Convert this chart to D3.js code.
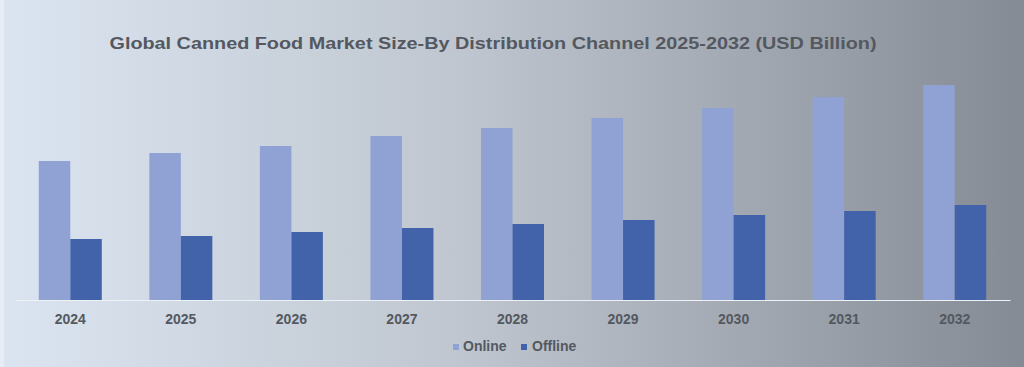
<!DOCTYPE html>
<html>
<head>
<meta charset="utf-8">
<script src="https://cdn.jsdelivr.net/npm/d3@7"></script>
<style>
  body { margin: 0; }
  svg { display: block; font-family: "Liberation Sans", Arial, sans-serif; }
</style>
</head>
<body>
<div id="chart"></div>
<script>
// data
const years = ['2024', '2025', '2026', '2027', '2028', '2029', '2030', '2031', '2032']
const online = [13.9, 14.7, 15.4, 16.4, 17.2, 18.2, 19.2, 20.3, 21.5]
const offline = [6.1, 6.4, 6.8, 7.2, 7.6, 8.0, 8.5, 8.9, 9.5]
const seriesNames = ['Online', 'Offline']
const colors = ['#8fa2d3', '#4262aa']

const width = 1024
const height = 367

const svg = d3.select('#chart')
  .append('svg')
  .attr('width', width)
  .attr('height', height)

// background gradient
const grad = svg.append('defs')
  .append('linearGradient')
  .attr('id', 'bg')
  .attr('x1', '0%').attr('y1', '0%')
  .attr('x2', '100%').attr('y2', '0%')
grad.append('stop').attr('offset', '0%').attr('stop-color', '#dbe5f1')
grad.append('stop').attr('offset', '45%').attr('stop-color', '#bfc6cf')
grad.append('stop').attr('offset', '100%').attr('stop-color', '#858b94')

svg.append('rect')
  .attr('width', width)
  .attr('height', height)
  .attr('fill', 'url(#bg)')

// faint light strip on the left edge
svg.append('rect')
  .attr('x', 0)
  .attr('width', 4)
  .attr('height', height)
  .attr('fill', '#e6edf5')

// title
svg.append('text')
  .attr('x', 493)
  .attr('y', 49)
  .attr('text-anchor', 'middle')
  .attr('font-size', 17)
  .attr('font-weight', 'bold')
  .attr('fill', '#545860')
  .attr('textLength', 767)
  .attr('lengthAdjust', 'spacingAndGlyphs')
  .text('Global Canned Food Market Size-By Distribution Channel 2025-2032 (USD Billion)')

// scales
const xScale = d3.scaleBand()
  .domain(years)
  .range([15, 1010])
  .paddingInner(0.43)
  .paddingOuter(0.215)

const xSub = d3.scaleBand()
  .domain(seriesNames)
  .range([0, xScale.bandwidth()])

const yScale = d3.scaleLinear()
  .domain([0, 21.5])
  .range([300, 85])

const rows = years.map((y, i) => ({ year: y, values: [online[i], offline[i]] }))

// bars
const groups = svg.append('g')
  .selectAll('g')
  .data(rows)
  .join('g')
  .attr('transform', d => `translate(${xScale(d.year)},0)`)

groups.selectAll('rect')
  .data(d => d.values.map((v, j) => ({ name: seriesNames[j], value: v, color: colors[j] })))
  .join('rect')
  .attr('x', d => xSub(d.name))
  .attr('width', xSub.bandwidth())
  .attr('y', d => yScale(d.value))
  .attr('height', d => yScale(0) - yScale(d.value))
  .attr('fill', d => d.color)

// x axis
const xAxis = d3.axisBottom(xScale).tickSize(0).tickPadding(14)
const xAxisGroup = svg.append('g')
  .attr('transform', `translate(0, ${yScale(0)})`)
  .call(xAxis)
xAxisGroup.select('.domain')
  .attr('stroke', '#eef1f5')
  .attr('stroke-width', 1)
xAxisGroup.selectAll('text')
  .attr('font-size', 14)
  .attr('font-weight', 'bold')
  .attr('fill', '#545860')
  .attr('font-family', '"Liberation Sans", Arial, sans-serif')

// legend
const legendX = [453, 521]
const legend = svg.append('g')
  .selectAll('g')
  .data(seriesNames)
  .join('g')
  .attr('transform', (d, i) => `translate(${legendX[i]}, 346)`)
legend.append('rect')
  .attr('x', 0)
  .attr('y', -2)
  .attr('width', 6)
  .attr('height', 6)
  .attr('fill', (d, i) => colors[i])
legend.append('text')
  .attr('x', (d, i) => i === 0 ? 10 : 11)
  .attr('y', 5)
  .attr('font-size', 14)
  .attr('font-weight', 'bold')
  .attr('fill', '#545860')
  .text(d => d)
</script>
</body>
</html>
